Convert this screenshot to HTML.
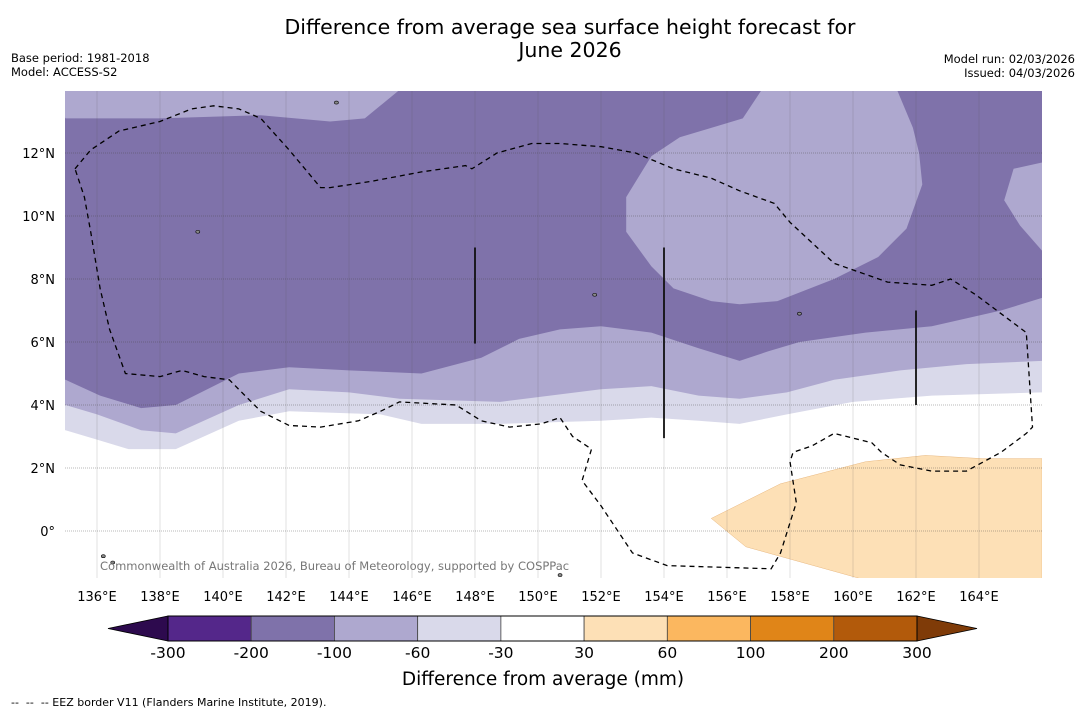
<!DOCTYPE html>
<html><head><meta charset="utf-8"><style>
html,body{margin:0;padding:0;background:#fff;}
svg{display:block;font-family:"DejaVu Sans","Liberation Sans",sans-serif;}
</style></head><body>
<svg id="chart" width="1085" height="713" viewBox="0 0 1085 713" xmlns="http://www.w3.org/2000/svg">
<text x="570" y="34" font-size="20.5" text-anchor="middle">Difference from average sea surface height forecast for</text>
<text x="570" y="57" font-size="20.5" text-anchor="middle">June 2026</text>
<text x="11" y="62" font-size="11.5">Base period: 1981-2018</text>
<text x="11" y="76" font-size="11.5">Model: ACCESS-S2</text>
<text x="1075" y="63" font-size="11.5" text-anchor="end">Model run: 02/03/2026</text>
<text x="1075" y="77" font-size="11.5" text-anchor="end">Issued: 04/03/2026</text>
<g id="map"></g>
<g id="cbar"></g>
<text x="543" y="685" font-size="18.5" text-anchor="middle">Difference from average (mm)</text>
<text x="11" y="706" font-size="11" xml:space="preserve">--  --  -- EEZ border V11 (Flanders Marine Institute, 2019).</text>
</svg>
<script>
const lonTicks=[136,138,140,142,144,146,148,150,152,154,156,158,160,162,164];
const latTicks=[0,2,4,6,8,10,12];
const bandDark=[[135,4.8],[136.1,4.3],[137.4,3.9],[138.5,4.0],[140.5,5.0],[142.1,5.2],[144,5.1],[146.3,5.0],[148.2,5.5],[149.4,6.1],[150.7,6.4],[152,6.5],[153.6,6.3],[155.1,5.8],[156.4,5.4],[157.3,5.7],[158.3,6.0],[160.4,6.3],[162.5,6.5],[164.7,7.0],[166,7.4]];
const band60=[[135,4.0],[136,3.7],[137.4,3.2],[138.5,3.1],[140.5,4.0],[142.1,4.5],[144,4.4],[145.6,4.2],[148.8,4.1],[152,4.5],[153.6,4.6],[155.1,4.3],[156.4,4.2],[157.9,4.4],[159.4,4.8],[161.5,5.1],[163.6,5.3],[166,5.4]];
const band30=[[135,3.2],[136,2.9],[137,2.6],[138.5,2.6],[140.5,3.5],[142.1,3.8],[145,3.7],[146.3,3.4],[148.8,3.4],[152,3.5],[153.6,3.6],[155.1,3.5],[156.4,3.4],[157.9,3.7],[160,4.1],[162.5,4.3],[166,4.4]];
const topBand=[[135,13.1],[138,13.1],[141.2,13.2],[143.4,13.0],[144.5,13.1],[145.6,14]];
const blob=[[157.1,14],[156.5,13.1],[154.5,12.5],[153.6,11.9],[152.8,10.6],[152.8,9.5],[153.6,8.4],[154.3,7.7],[155.5,7.3],[156.4,7.2],[157.6,7.3],[159.4,8.0],[160.8,8.7],[161.7,9.6],[162.2,11.0],[162.1,12.0],[161.9,12.8],[161.4,14]];
const rightBlob=[[166,11.7],[165.1,11.5],[164.8,10.5],[165.3,9.7],[166,8.9]];
const orange=[[155.5,0.4],[157.7,1.5],[160.4,2.2],[162.3,2.4],[164.1,2.3],[166,2.3],[166,-1.5],[160.2,-1.5],[156.6,-0.5]];
const eez=[[135.3,11.5],[135.8,12.1],[136.7,12.7],[138,13.0],[139,13.4],[139.7,13.5],[140.5,13.4],[141.2,13.1],[142.1,12.1],[143.1,10.9],[143.4,10.9],[144.7,11.1],[146.3,11.4],[147.7,11.6],[147.9,11.5],[148.7,12.0],[149.8,12.3],[150.7,12.3],[152,12.2],[153.1,12.0],[154.3,11.5],[155.5,11.2],[156.4,10.8],[157.5,10.4],[158,9.8],[159.4,8.5],[161.1,7.9],[162.5,7.8],[163.1,8.0],[163.9,7.5],[165.5,6.3],[165.7,3.3],[165.5,3.1],[164.7,2.5],[163.6,1.9],[162.5,1.9],[161.5,2.1],[160.9,2.5],[160.6,2.8],[159.4,3.1],[158.7,2.7],[158.1,2.5],[158,2.2],[158.2,0.9],[157.7,-0.7],[157.4,-1.2],[154.1,-1.1],[153,-0.7],[152,0.8],[151.4,1.6],[151.7,2.6],[151.1,3.0],[150.7,3.6],[150.1,3.4],[149.1,3.3],[148.2,3.5],[147.4,4.0],[145.6,4.1],[145,3.8],[144.3,3.5],[143.1,3.3],[142.1,3.35],[141.2,3.8],[140.7,4.3],[140.2,4.8],[139.4,4.9],[138.7,5.1],[138,4.9],[136.9,5.0],[136.4,6.4],[136.1,7.7],[135.8,9.5],[135.6,10.6],[135.3,11.5]];
const vlineLons=[148,154,162];
const vlineLat0=[5.95,2.95,4.0];
const vlineLat1=[9.0,9.0,7.0];
const cbLevels=[-300,-200,-100,-60,-30,30,60,100,200,300];
const cbColors=['#54278a','#7f72aa','#aea8cf','#d9d9ea','#ffffff','#fde0b6','#fbb75f','#e08518','#b25a0b'];

const NS='http://www.w3.org/2000/svg';
const LON0=135,LON1=166,LAT0=-1.5,LAT1=14;
const X0=65,X1=1042,Y0=91,Y1=578;
const xs=lon=>97+(lon-136)*31.5;
const ys=lat=>531-lat*31.5;
function mk(tag,attrs,parent){const e=document.createElementNS(NS,tag);for(const k in attrs)e.setAttribute(k,attrs[k]);parent.appendChild(e);return e;}
function pts(arr){return arr.map(p=>xs(p[0]).toFixed(1)+','+ys(p[1]).toFixed(1)).join(' ');}
const map=document.getElementById('map');
const clip=mk('clipPath',{id:'mc'},map);mk('rect',{x:X0,y:Y0,width:X1-X0,height:Y1-Y0},clip);
const g=mk('g',{'clip-path':'url(#mc)'},map);
mk('rect',{x:X0,y:Y0,width:X1-X0,height:Y1-Y0,fill:'#fff'},g);
function band(boundary,color,name){
  const pg=mk('polygon',{points:pts([[LON0-1,LAT1+1],[LON1+1,LAT1+1]].concat([[LON1+1,boundary[boundary.length-1][1]]],boundary.slice().reverse(),[[LON0-1,boundary[0][1]]])),fill:color},g);
  
  
}
band(band30,'#d9d9ea','band-minus30-to-minus60');
band(band60,'#aea8cf','band-minus60-to-minus100');
band(bandDark,'#7f72aa','band-minus100-to-minus200');
let p;
p=mk('polygon',{points:pts([[LON0-1,LAT1+1]].concat(topBand,[[topBand[topBand.length-1][0],LAT1+1]])),fill:'#aea8cf'},g);


p=mk('polygon',{points:pts(blob.concat([[blob[blob.length-1][0],LAT1+1],[blob[0][0],LAT1+1]])),fill:'#aea8cf'},g);


p=mk('polygon',{points:pts(rightBlob.concat([[LON1+1,rightBlob[rightBlob.length-1][1]],[LON1+1,rightBlob[0][1]]])),fill:'#aea8cf'},g);


p=mk('polygon',{points:pts(orange),fill:'#fde0b6',stroke:'#e8b880','stroke-width':0.5},g);


lonTicks.forEach(l=>{const e=mk('line',{x1:xs(l),x2:xs(l),y1:Y0,y2:Y1,stroke:'#555','stroke-opacity':0.3,'stroke-width':0.6},g);

});
latTicks.forEach(l=>{const e=mk('line',{x1:X0,x2:X1,y1:ys(l),y2:ys(l),stroke:'#444','stroke-opacity':0.5,'stroke-width':0.8,'stroke-dasharray':'1,1'},g);

});
p=mk('polyline',{points:pts(eez),fill:'none',stroke:'#000','stroke-width':1.3,'stroke-dasharray':'5,4'},g);


vlineLons.forEach((l,i)=>{const e=mk('line',{x1:xs(l),x2:xs(l),y1:ys(vlineLat0[i]),y2:ys(vlineLat1[i]),stroke:'#111','stroke-width':1.8},g);

});
[[143.6,13.6],[136.2,-0.8],[136.5,-1.0],[151.8,7.5],[150.7,-1.4],[158.3,6.9],[139.2,9.5]].forEach(q=>{const e=mk('ellipse',{cx:xs(q[0]),cy:ys(q[1]),rx:2,ry:1.5,fill:'#888',stroke:'#000','stroke-width':0.6},g);

});
let t=mk('text',{x:100,y:570,'font-size':11.5,fill:'#777'},g);t.textContent='Commonwealth of Australia 2026, Bureau of Meteorology, supported by COSPPac';


lonTicks.forEach(l=>{const e=mk('text',{x:xs(l),y:601,'font-size':13,'text-anchor':'middle'},map);e.textContent=l+'°E';

});
latTicks.forEach(l=>{const e=mk('text',{x:55,y:ys(l)+5,'font-size':13,'text-anchor':'end'},map);e.textContent=(l===0?'0°':l+'°N');

});
const cb=document.getElementById('cbar');
const CX0=168,CX1=917,CY0=616,CY1=641,CW=(CX1-CX0)/cbColors.length;
p=mk('polygon',{points:`108,628.5 ${CX0},${CY0} ${CX0},${CY1}`,fill:'#2d0a4e',stroke:'#000','stroke-width':0.8},cb);


p=mk('polygon',{points:`977,628.5 ${CX1},${CY0} ${CX1},${CY1}`,fill:'#7f3b08',stroke:'#000','stroke-width':0.8},cb);


cbColors.forEach((c,i)=>{const e=mk('rect',{x:CX0+i*CW,y:CY0,width:CW,height:CY1-CY0,fill:c,stroke:'#444','stroke-width':0.8},cb);

});
mk('rect',{x:CX0,y:CY0,width:CX1-CX0,height:CY1-CY0,fill:'none',stroke:'#000','stroke-width':1},cb);
cbLevels.forEach((v,i)=>{const e=mk('text',{x:CX0+i*CW,y:658,'font-size':15.5,'text-anchor':'middle'},cb);e.textContent=v;

});
</script>
</body></html>
